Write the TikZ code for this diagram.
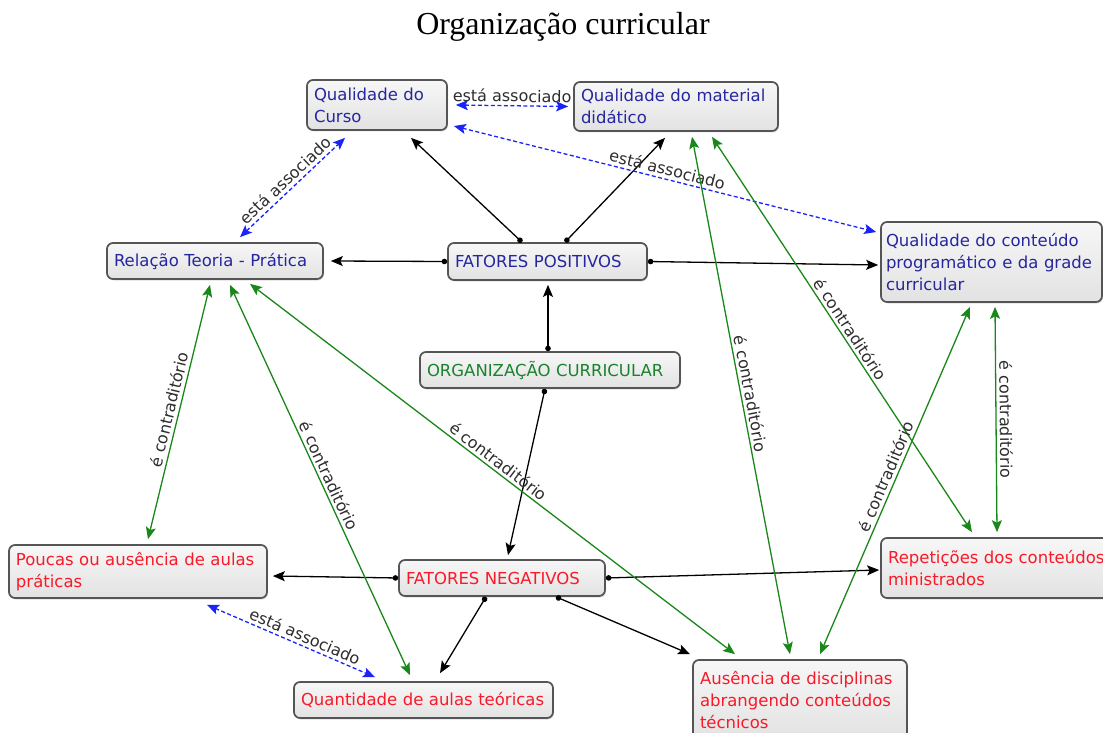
\documentclass[tikz,border=0pt]{standalone}
\usepackage{fontspec}
\setmainfont{DejaVu Sans}
\newfontfamily\conceptfamily{DejaVu Sans}
\newfontfamily\titlefamily{Liberation Serif}
\usetikzlibrary{arrows.meta,calc,shadows}

\definecolor{conceptblue}{RGB}{38,38,160}
\definecolor{conceptred}{RGB}{250,25,40}
\definecolor{conceptgreen}{RGB}{25,130,45}
\definecolor{boxedge}{RGB}{85,85,85}
\definecolor{boxtop}{RGB}{247,247,247}
\definecolor{boxbottom}{RGB}{226,226,226}
\definecolor{linkgreen}{RGB}{25,135,25}
\definecolor{linkblue}{RGB}{25,35,250}
\definecolor{labelgray}{RGB}{45,45,45}

\tikzset{
  concept/.style={draw=boxedge, line width=1.7pt, rounded corners=6pt,
    top color=boxtop, bottom color=boxbottom, inner xsep=7pt, inner ysep=0pt,
    drop shadow={shadow xshift=1pt, shadow yshift=-1.5pt, opacity=0.25},
    align=left, font=\conceptfamily\fontsize{16.5}{22}\selectfont},
  solidlink/.style={draw=black, line width=1.3pt,
    {Circle[length=5.5pt]}-{Stealth[length=12pt,width=10pt,inset=2.5pt]}},
  assoc/.style={draw=linkblue, line width=1.3pt, dash pattern=on 4pt off 2.5pt,
    {Stealth[length=12pt,width=10pt,inset=2.5pt]}-{Stealth[length=12pt,width=10pt,inset=2.5pt]}},
  contra/.style={draw=linkgreen, line width=1.3pt,
    {Stealth[length=12pt,width=10pt,inset=2.5pt]}-{Stealth[length=12pt,width=10pt,inset=2.5pt]}},
  linklabel/.style={text=labelgray, font=\conceptfamily\fontsize{16}{18}\selectfont,
    inner sep=3pt, sloped, above}
}

\begin{document}
\begin{tikzpicture}[x=1pt,y=-1pt]
\useasboundingbox (0,0) rectangle (1103,733);
\clip (0,0) rectangle (1103,733);

% title
\node[font=\titlefamily\fontsize{32}{36}\selectfont] (title) at (563,27) {Organização curricular};

% concepts
\node[concept, text=conceptblue, text width=126pt, minimum height=50pt] (qc) at (377,105) {Qualidade do\\Curso};
\node[concept, text=conceptblue, text width=190pt, minimum height=49pt] (qm) at (676,106.5) {Qualidade do material\\didático};
\node[concept, text=conceptblue, text width=202pt, minimum height=36pt] (rel) at (215,261) {Relação Teoria - Prática};
\node[concept, text=conceptblue, text width=185pt, minimum height=37pt] (fp) at (547.5,261.5) {FATORES POSITIVOS};
\node[concept, text=conceptblue, text width=211pt, inner xsep=5pt, minimum height=80pt] (qg) at (991.5,262) {Qualidade do conteúdo\\programático e da grade\\curricular};
\node[concept, text=conceptgreen, text width=246pt, minimum height=36pt] (org) at (550,370) {ORGANIZAÇÃO CURRICULAR};
\node[concept, text=conceptred, text width=244pt, minimum height=53pt] (pa) at (138,571.5) {Poucas ou ausência de aulas\\práticas};
\node[concept, text=conceptred, text width=192pt, minimum height=36pt] (fn) at (502,578) {FATORES NEGATIVOS};
\node[concept, text=conceptred, text width=220pt, minimum height=60pt] (rep) at (998,568) {Repetições dos conteúdos\\ministrados};
\node[concept, text=conceptred, text width=245pt, minimum height=36pt] (qt) at (423.5,700) {Quantidade de aulas teóricas};
\node[concept, text=conceptred, text width=200pt, minimum height=80pt] (aus) at (800,700) {Ausência de disciplinas\\abrangendo conteúdos\\técnicos};

% positive factors
\draw[solidlink] ([xshift=-25.5pt]fp.north) -- ([xshift=34pt,yshift=-7pt]qc.south);
\draw[solidlink] ([xshift=17.5pt]fp.north) -- ([xshift=-11pt,yshift=-6pt]qm.south);
\draw[solidlink] (fp.west) -- ([xshift=7pt]rel.east);
\draw[solidlink] (fp.east) -- ([xshift=-2pt,yshift=-3pt]qg.west);
\draw[solidlink] ([xshift=-2pt]org.north) -- ([xshift=0.5pt,yshift=-4pt]fp.south);

% negative factors
\draw[solidlink] ([xshift=-5pt]org.south) -- ([xshift=6pt,yshift=4pt]fn.north);
\draw[solidlink] (fn.west) -- ([xshift=5pt,yshift=-4.5pt]pa.east);
\draw[solidlink] (fn.east) -- ([xshift=-1pt,yshift=-2pt]rep.west);
\draw[solidlink] ([xshift=-16pt]fn.south) -- ([xshift=16.5pt,yshift=8pt]qt.north);
\draw[solidlink] ([xshift=54pt]fn.south) -- ([xshift=-110pt,yshift=5pt]aus.north);

% associations
\draw[assoc] ([xshift=8pt]qc.east) -- node[linklabel]{está associado} ([xshift=-5pt]qm.west);
\draw[assoc] ([xshift=25pt,yshift=5pt]rel.north) -- node[linklabel]{está associado} ([xshift=-32pt,yshift=-7pt]qc.south);
\draw[assoc] ([xshift=6pt,yshift=-21pt]qc.east) -- node[linklabel]{está associado} ([xshift=-4pt,yshift=30pt]qg.west);
\draw[assoc] ([xshift=69pt,yshift=-6pt]pa.south) -- node[linklabel,pos=0.56]{está associado} ([xshift=-48.5pt,yshift=4pt]qt.north);

% contradictions
\draw[contra] ([xshift=10pt,yshift=5pt]pa.north) -- node[linklabel]{é contraditório} ([xshift=-5pt,yshift=-5pt]rel.south);
\draw[contra] ([xshift=15pt,yshift=-5pt]rel.south) -- node[linklabel]{é contraditório} ([xshift=-13.5pt,yshift=6pt]qt.north);
\draw[contra] ([xshift=35pt,yshift=-4pt]rel.south) -- node[linklabel]{é contraditório} ([xshift=-65pt,yshift=5pt]aus.north);
\draw[contra] ([xshift=16pt,yshift=-5pt]qm.south) -- node[linklabel]{é contraditório} ([xshift=-10pt,yshift=5pt]aus.north);
\draw[contra] ([xshift=36pt,yshift=-5pt]qm.south) -- node[linklabel]{é contraditório} ([xshift=-26pt,yshift=5pt]rep.north);
\draw[contra] ([xshift=20pt,yshift=5pt]aus.north) -- node[linklabel]{é contraditório} ([xshift=-21.5pt,yshift=-4pt]qg.south);
\draw[contra] ([xshift=3.5pt,yshift=-4pt]qg.south) -- node[linklabel]{é contraditório} ([xshift=-1pt,yshift=5pt]rep.north);
\end{tikzpicture}
\end{document}
